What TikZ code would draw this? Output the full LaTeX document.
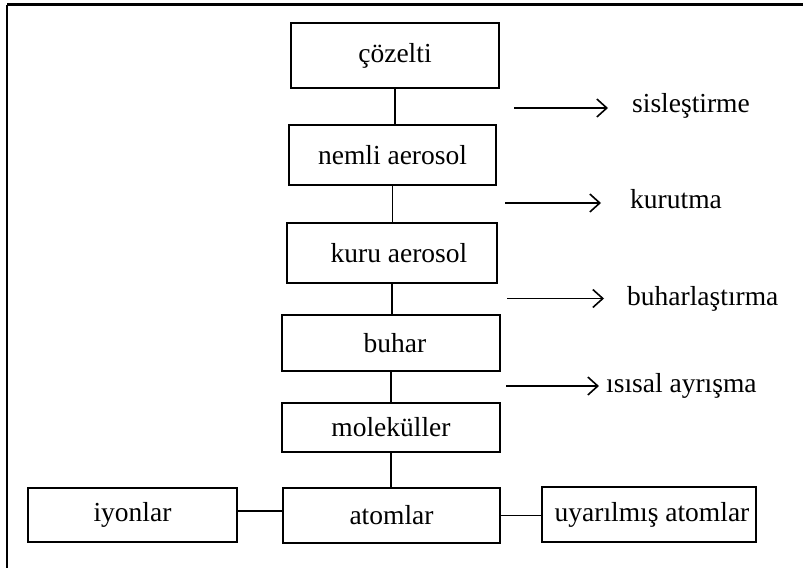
\documentclass[tikz,border=0pt]{standalone}
\usepackage{fontspec}
\setmainfont{Liberation Serif}
\usetikzlibrary{arrows.meta}
\tikzset{
  box/.style={draw, line width=2pt, inner sep=0pt, font=\fontsize{27.5}{30}\selectfont},
  lab/.style={inner sep=0pt, font=\fontsize{27.5}{30}\selectfont},
  conn/.style={line width=1.6pt},
  arr/.style={line width=1.6pt, -{Straight Barb[length=10pt,width=18pt,line width=1.6pt]}},
  frame/.style={line width=2.2pt}
}
\begin{document}
\begin{tikzpicture}[x=1pt,y=-1pt]
\useasboundingbox (0,0) rectangle (803,568);
% frame (top and left edges)
\draw[frame] (7,4.5) -- (803,4.5);
\draw[frame] (7,4.5) -- (7,568);
% boxes
\node[box, minimum width=208, minimum height=65] (cozelti) at (395,55.5) {çözelti\hspace{22pt}};
\node[box, minimum width=207, minimum height=60] (nemli) at (392.5,155) {nemli aerosol\hspace{7pt}};
\node[box, minimum width=210, minimum height=60] (kuru) at (392,253) {\hspace*{14pt}kuru aerosol};
\node[box, minimum width=218, minimum height=56] (buhar) at (391,343) {\hspace*{8pt}buhar};
\node[box, minimum width=218, minimum height=49] (molekul) at (391,427.5) {moleküller\hspace{26pt}};
\node[box, minimum width=217, minimum height=55] (atomlar) at (391.5,515.5) {atomlar\hspace{24pt}};
\node[box, minimum width=209, minimum height=54] (iyonlar) at (132.5,515) {iyonlar\hspace{19pt}};
\node[box, minimum width=214, minimum height=55] (uyarilmis) at (649,514.5) {\hspace*{6pt}uyarılmış atomlar};
% vertical connectors
\draw[conn] (cozelti.south) -- (cozelti.south |- nemli.north);
\draw[conn] (nemli.south) -- (nemli.south |- kuru.north);
\draw[conn] (kuru.south) -- (kuru.south |- buhar.north);
\draw[conn] (buhar.south) -- (buhar.south |- molekul.north);
\draw[conn] (molekul.south) -- (molekul.south |- atomlar.north);
% horizontal connectors
\draw[conn] ([yshift=4pt]iyonlar.east) -- ([yshift=4pt]iyonlar.east -| atomlar.west);
\draw[conn] (atomlar.east) -- (atomlar.east -| uyarilmis.west);
% process labels with arrows
\coordinate (s1) at (514,108);
\node[lab, anchor=base west] (l1) at (632,112) {sisleştirme};
\draw[arr, shorten >=24pt] (s1) -- (s1 -| l1.west);
\coordinate (s2) at (505,203);
\node[lab, anchor=base west] (l2) at (630,208) {kurutma};
\draw[arr, shorten >=29pt] (s2) -- (s2 -| l2.west);
\coordinate (s3) at (507,298.5);
\node[lab, anchor=base west] (l3) at (627,305) {buharlaştırma};
\draw[arr, shorten >=23pt] (s3) -- (s3 -| l3.west);
\coordinate (s4) at (506,386);
\node[lab, anchor=base west] (l4) at (606,392) {ısısal ayrışma};
\draw[arr, shorten >=7pt] (s4) -- (s4 -| l4.west);
\end{tikzpicture}
\end{document}
